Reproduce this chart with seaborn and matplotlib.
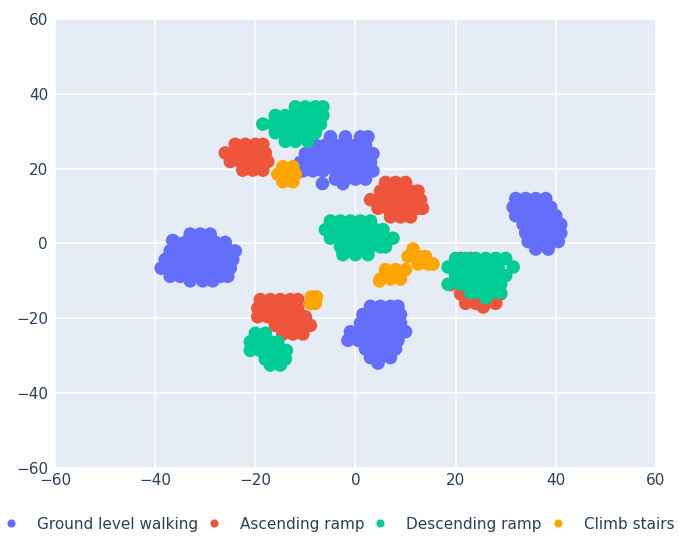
import pandas as pd
import numpy as np
import matplotlib
matplotlib.use('Agg')
import matplotlib.pyplot as plt
import seaborn as sns

# t-SNE embedding, points, stored as (y, [x, ...]) rows per blob
classes = ['Ground level walking', 'Ascending ramp', 'Descending ramp', 'Climb stairs']
colors = ['#636EFA', '#EF553B', '#00CC96', '#FFA500']

walk_blobs = [
    [(2.5, [-33, -31, -29]), (0.8, [-36.5]),
     (0.3, [-36, -34, -32, -30, -28, -26]),
     (-2, [-37, -35, -33, -31, -29, -27, -25, -24]),
     (-4.3, [-38, -36, -34, -32, -30, -28, -26, -24.5]),
     (-6.6, [-38.8, -37, -35, -33, -31, -29, -27, -25]),
     (-8.8, [-37, -35, -33, -31, -29, -27, -25.5]),
     (-10, [-33, -30.5, -28.5])],
    [(28.5, [-5, -2, 1, 2.5]),
     (26.3, [-8, -6, -4, -2, 0, 2]),
     (24, [-10, -8, -6, -4, -2, 0, 2, 3.5]),
     (21.7, [-11, -9, -7, -5, -3, -1, 1, 3]),
     (19.4, [-10.5, -8.5, -6.5, -4, -2, 0, 2, 3.5]),
     (17.2, [-4, -2, 0, 2]),
     (16, [-6.6, -2.5])],
    [(-16.8, [3, 5, 7, 8.5]),
     (-19, [1.5, 3.5, 5.5, 7.5, 9]),
     (-21.3, [1, 3, 5, 7, 9]),
     (-23.6, [-1, 1, 3, 5, 7, 9, 10]),
     (-25.9, [-1.5, 0.5, 2.5, 4.5, 6.5, 8.5]),
     (-28.2, [2, 4, 6, 8]),
     (-30.5, [3, 5, 7]),
     (-32, [4.5])],
    [(12, [32, 34, 36, 38]),
     (9.7, [31.5, 33.5, 35.5, 37.5, 39]),
     (7.4, [32, 34, 36, 38, 40]),
     (5.1, [33.5, 35.5, 37.5, 39.5, 41]),
     (2.8, [34, 36, 38, 40, 41]),
     (0.5, [34.5, 36.5, 38.5, 40.5]),
     (-1.5, [36, 38.5])],
]

asc_blobs = [
    [(26.5, [-24, -22, -20, -18.5]),
     (24.2, [-26, -24, -22, -20, -18]),
     (21.9, [-25, -23, -21, -19, -17.5]),
     (19.6, [-22.5, -20.5, -18.5])],
    [(16.3, [6, 8, 10]),
     (14, [5, 7, 9, 11, 12.5]),
     (11.7, [3, 5, 7, 9, 11, 13]),
     (9.4, [4.5, 6.5, 8.5, 10.5, 12.5, 13.4]),
     (7.1, [7, 9, 11])],
    [(-15, [-19, -17, -15, -13, -11.5]),
     (-17.3, [-19.5, -17.5, -15.5, -13.5, -11.5]),
     (-19.6, [-19.5, -17.5, -15.5, -13.5, -11.5, -10]),
     (-21.9, [-16, -14, -12, -10, -9]),
     (-24.2, [-14.5, -12.5, -10.5])],
    [(-4, [21, 23]),
     (-8, [20, 22, 24, 26]),
     (-11, [19, 21, 23, 25, 27]),
     (-13.5, [21, 23, 25, 27, 29]),
     (-16, [22, 24, 26, 28]),
     (-17, [25.5])],
]

desc_blobs = [
    [(36.5, [-12, -10, -8, -6.5]),
     (34.2, [-16, -14, -12, -10, -8, -6.5]),
     (31.9, [-18.5, -16.5, -14.5, -12.5, -10.5, -8.5, -7]),
     (29.6, [-16, -14, -12, -10, -8]),
     (27.3, [-14, -12, -9.5])],
    [(6, [-5, -3, -1, 1, 3]),
     (3.7, [-6, -4, -2, 0, 2, 4, 5.5]),
     (1.4, [-5, -3, -1, 1, 3, 5, 7.5]),
     (-0.9, [-3, -1, 1, 3, 5, 6]),
     (-3, [-2.5, 0, 2.5])],
    [(-24, [-20, -18]),
     (-26.3, [-21, -19, -17, -15.5]),
     (-28.6, [-21, -19, -17, -15, -13.8]),
     (-30.9, [-18, -16, -14]),
     (-32.5, [-17, -15])],
    [(-4, [20, 22, 24, 26, 28, 30]),
     (-6.3, [18.5, 20.5, 22.5, 24.5, 26.5, 28.5, 31.5]),
     (-8.6, [20, 22, 24, 26, 28, 30]),
     (-10.9, [18.5, 21, 23, 25, 27, 29]),
     (-13.2, [23, 25, 27, 29]),
     (-14.5, [26])],
]

stairs_blobs = [
    [(20.5, [-14.5, -12.5]), (18.5, [-15.5, -13.5, -12]), (16.5, [-14.5, -12.5])],
    [(-14.3, [-8.8, -7.8]), (-16, [-9, -8])],
    [(-7, [6, 8, 10]), (-9.5, [5, 7, 9]), (-10, [4.8])],
    [(-1.5, [11.5]), (-3.5, [10.5, 12.5, 14]), (-5.5, [12.5, 14.5, 15.5])],
]

recs = []
for cls, blobs in zip(classes, [walk_blobs, asc_blobs, desc_blobs, stairs_blobs]):
    for blob in blobs:
        for yv, xs in blob:
            for xv in xs:
                recs.append({'x': xv, 'y': yv, 'cls': cls})
df = pd.DataFrame(recs)

# %%
fig = plt.figure(figsize=(6.79, 5.36), dpi=100)
ax = fig.add_axes([0.081, 0.127, 0.885, 0.8376])
ax.set_facecolor('#E5ECF6')
ax.set_axisbelow(True)
ax.grid(color='white', linewidth=1.1)

sns.scatterplot(data=df, x='x', y='y', hue='cls', hue_order=classes,
                palette=colors, s=95, linewidth=0, alpha=1, ax=ax)

ax.set_xlim(-60, 60)
ax.set_ylim(-60, 60)
ax.set_xticks(range(-60, 61, 20))
ax.set_yticks(range(-60, 61, 20))
ax.set(xlabel='', ylabel='')
ax.tick_params(length=0, colors='#2a3f5f', labelsize=11)
ax.tick_params(axis='x', pad=4)
ax.tick_params(axis='y', pad=5)
for sp in ax.spines.values():
    sp.set_visible(False)

sns.move_legend(ax, 'center', bbox_to_anchor=(0.5, 0.022),
                bbox_transform=fig.transFigure, ncol=4, title=None,
                frameon=False, fontsize=11, handletextpad=1.3,
                columnspacing=0.65, handlelength=0.8, markerscale=0.6,
                borderpad=0, borderaxespad=0)
for t in ax.get_legend().get_texts():
    t.set_color('#2a3f5f')

fig.savefig('out.png', dpi=100)
